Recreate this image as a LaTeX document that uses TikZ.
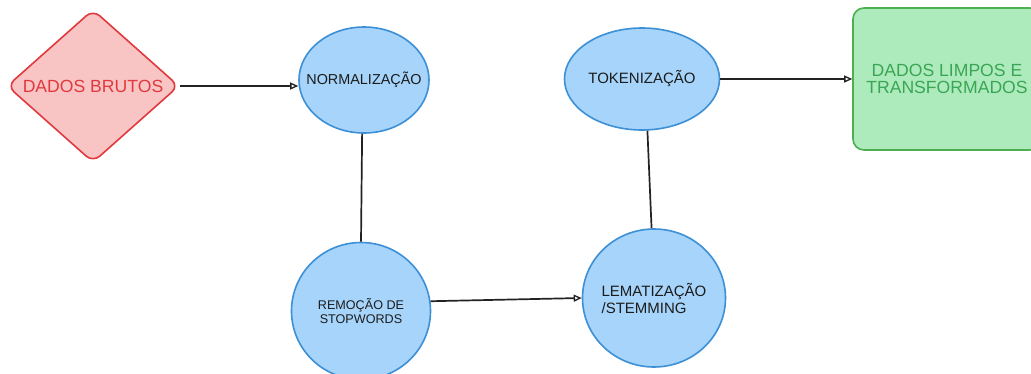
\documentclass[tikz,border=0pt]{standalone}
\usepackage{fontspec}
\setmainfont{Liberation Sans}
\usetikzlibrary{shapes.geometric,arrows.meta}
\definecolor{redfill}{HTML}{F8C4C4}
\definecolor{redline}{HTML}{E0393E}
\definecolor{bluefill}{HTML}{A6D4FA}
\definecolor{blueline}{HTML}{3D8FD6}
\definecolor{greenfill}{HTML}{AEEBBC}
\definecolor{greenline}{HTML}{4CAF50}
\definecolor{greentext}{HTML}{3AA655}
\definecolor{inktext}{HTML}{1C1C1C}
\definecolor{wire}{HTML}{222222}
\tikzset{
  stage/.style={ellipse, draw=blueline, fill=bluefill, line width=1.6pt,
    inner xsep=-30pt, inner ysep=-20pt, text=inktext, align=center},
  flow/.style={draw=wire, line width=1.7pt,
    -{Triangle[open, length=8pt, width=7pt, line width=1.3pt]}},
  link/.style={draw=wire, line width=1.7pt},
}
\begin{document}
\begin{tikzpicture}[x=1pt, y=-1pt]
\clip (0,0) rectangle (1031,373);
\fill[white] (0,0) rectangle (1031,373);

% source: raw data
\node (raw) [diamond, draw=redline, fill=redfill, line width=1.6pt,
  rounded corners=9pt, minimum width=172pt, minimum height=146pt,
  inner sep=0pt, text=redline, font=\fontsize{17.6}{20}\selectfont]
  at (93,86) {DADOS BRUTOS};

% processing stages
\node (norm) [stage, minimum width=130pt, minimum height=106pt,
  font=\fontsize{14.4}{17}\selectfont] at (364,80) {NORMALIZAÇÃO};
\node (stop) [stage, minimum width=139pt, minimum height=137pt,
  font=\fontsize{12.6}{14}\selectfont] at (361,311) {REMOÇÃO DE\\STOPWORDS};
\node (lema) [stage, minimum width=143pt, minimum height=138pt,
  align=left, font=\fontsize{15}{17}\selectfont] at (654,298)
  {LEMATIZAÇÃO\\/STEMMING};
\node (tok) [stage, minimum width=155pt, minimum height=102pt,
  font=\fontsize{15}{18}\selectfont] at (642,79) {TOKENIZAÇÃO};

% result: clean data
\node (out) [rectangle, draw=greenline, fill=greenfill, line width=1.6pt,
  rounded corners=11pt, minimum width=188pt, minimum height=142pt,
  inner sep=0pt, text=greentext, align=center,
  font=\fontsize{17.6}{17}\selectfont] at (947,79)
  {DADOS LIMPOS E\\TRANSFORMADOS};

% connectors
\draw[flow] (raw.east) -- (raw.east -| norm.west);
\draw[link] (norm.-92) -- (stop.north);
\draw[flow] (stop.8) -- (lema.west);
\draw[link] (lema.92) -- (tok.-84);
\draw[flow] (tok.east) -- (out.west);
\end{tikzpicture}
\end{document}
